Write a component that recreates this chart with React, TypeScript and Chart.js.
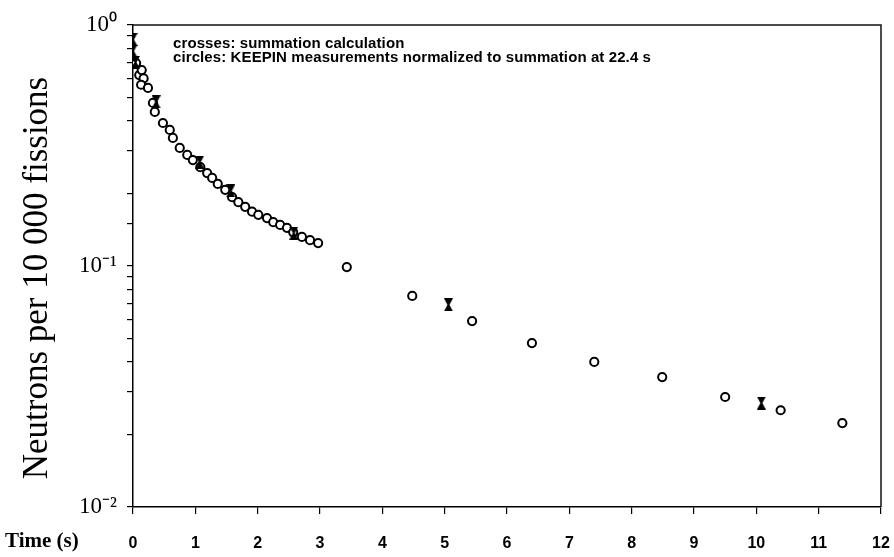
import React, { useEffect, useRef } from 'react';
import { Chart, registerables } from 'chart.js';

Chart.register(...registerables);

// KEEPIN measurements (circles), time in s
const circleTimes = [0.05, 0.10, 0.14, 0.17, 0.13, 0.24, 0.32, 0.35, 0.48, 0.59, 0.64, 0.75, 0.87, 0.96, 1.08, 1.19, 1.27, 1.36, 1.48, 1.59, 1.69, 1.80, 1.91, 2.01, 2.15, 2.25, 2.36, 2.47, 2.57, 2.71, 2.84, 2.97, 3.43, 4.48, 5.44, 6.40, 7.40, 8.49, 9.50, 10.39, 11.38];
const circleValues = [0.695, 0.62, 0.65, 0.60, 0.565, 0.548, 0.475, 0.436, 0.392, 0.367, 0.340, 0.309, 0.289, 0.275, 0.257, 0.243, 0.232, 0.219, 0.207, 0.193, 0.184, 0.176, 0.168, 0.163, 0.158, 0.152, 0.148, 0.144, 0.138, 0.132, 0.128, 0.1245, 0.099, 0.0751, 0.0591, 0.0479, 0.040, 0.0346, 0.0286, 0.0252, 0.0223];

// Summation calculation (crosses)
const crossTimes = [0.0, 0.0, 0.04, 0.37, 1.07, 1.57, 2.58, 5.06, 10.08];
const crossValues = [0.87, 0.78, 0.70, 0.48, 0.27, 0.205, 0.137, 0.069, 0.027];

const xMin = 0;
const xMax = 12;
const yMin = 0.01;
const yMax = 1;
const yMajorValues = [1, 0.1, 0.01];
const yMajorLabels = ['10⁰', '10⁻¹', '10⁻²'];

const legendLines = [
  'crosses: summation calculation',
  'circles: KEEPIN measurements normalized to summation at 22.4 s',
];
const xTitle = 'Time (s)';
const yTitle = 'Neutrons per 10 000 fissions';

function makeHourglass(): HTMLCanvasElement {
  const c = document.createElement('canvas');
  c.width = 9;
  c.height = 13;
  const g = c.getContext('2d')!;
  g.fillStyle = '#000';
  g.beginPath();
  g.moveTo(0, 0);
  g.lineTo(9, 0);
  g.lineTo(5.5, 6.5);
  g.lineTo(9, 13);
  g.lineTo(0, 13);
  g.lineTo(3.5, 6.5);
  g.closePath();
  g.fill();
  return c;
}

const annotatePlugin = {
  id: 'annotate',
  afterDraw(chart: any) {
    const { ctx, chartArea: a } = chart;
    ctx.save();
    // frame top and right
    ctx.strokeStyle = '#111';
    ctx.lineWidth = 1.5;
    ctx.beginPath();
    ctx.moveTo(a.left, a.top);
    ctx.lineTo(a.right, a.top);
    ctx.lineTo(a.right, a.bottom);
    ctx.stroke();

    ctx.fillStyle = '#000';
    ctx.textBaseline = 'middle';
    ctx.textAlign = 'left';
    ctx.font = 'bold 15px "Liberation Sans"';
    (ctx as any).letterSpacing = '0.1px';
    ctx.fillText(legendLines[0], a.left + 40, a.top + 19);
    ctx.fillText(legendLines[1], a.left + 40, a.top + 33);
    (ctx as any).letterSpacing = '0px';

    ctx.font = 'bold 21px "Liberation Serif"';
    ctx.fillText(xTitle, 5, a.bottom + 35);

    ctx.translate(38, (a.top + a.bottom) / 2 + 12);
    ctx.rotate(-Math.PI / 2);
    ctx.textAlign = 'center';
    ctx.font = '35px "Liberation Serif"';
    ctx.fillText(yTitle, 0, 0);
    ctx.restore();
  },
};

export default function App() {
  const ref = useRef<HTMLCanvasElement | null>(null);

  useEffect(() => {
    if (!ref.current) return;
    const hourglass = makeHourglass();
    const chart = new Chart(ref.current, {
      type: 'scatter',
      data: {
        datasets: [
          {
            label: 'summation calculation',
            data: crossTimes.map((t, i) => ({ x: t, y: crossValues[i] })),
            pointStyle: hourglass as any,
            pointRadius: 5,
            showLine: false,
          },
          {
            label: 'KEEPIN measurements',
            data: circleTimes.map((t, i) => ({ x: t, y: circleValues[i] })),
            pointStyle: 'circle',
            pointRadius: 4.1,
            borderWidth: 2,
            borderColor: '#000',
            backgroundColor: '#fff',
            showLine: false,
          },
        ],
      },
      options: {
        animation: false,
        responsive: true,
        maintainAspectRatio: false,
        events: [],
        layout: { padding: { top: 25, right: 13, left: 0, bottom: 0 } },
        plugins: { legend: { display: false }, tooltip: { enabled: false } },
        scales: {
          x: {
            type: 'linear',
            min: xMin,
            max: xMax,
            ticks: {
              stepSize: 1,
              autoSkip: false,
              maxTicksLimit: 20,
              maxRotation: 0,
              color: '#000',
              padding: 20,
              font: { family: '"Liberation Sans"', weight: 'bold', size: 16 },
            },
            grid: { drawOnChartArea: false, tickLength: 7, color: '#000', lineWidth: 1.2 },
            border: { color: '#000', width: 1.5 },
            afterFit(s: any) {
              s.height = 50;
              s.paddingLeft = 0;
              s.paddingRight = 0;
            },
          },
          y: {
            type: 'logarithmic',
            min: yMin,
            max: yMax,
            ticks: {
              autoSkip: false,
              color: '#000',
              padding: 10,
              font: { family: '"Liberation Serif"', size: 23 },
              callback: (v: any) => {
                const idx = yMajorValues.findIndex((m) => Math.abs(Math.log10(Number(v)) - Math.log10(m)) < 1e-6);
                return idx >= 0 ? yMajorLabels[idx] : '';
              },
            },
            grid: { drawOnChartArea: false, tickLength: 6, color: '#000', lineWidth: 1.2 },
            border: { color: '#000', width: 1.5 },
            afterFit(s: any) {
              s.width = 133;
              s.paddingTop = 0;
              s.paddingBottom = 0;
            },
          },
        },
      },
      plugins: [annotatePlugin],
    });
    return () => chart.destroy();
  }, []);

  return (
    <div style={{ position: 'fixed', left: 0, top: 0, width: 894, height: 557, background: '#fff' }}>
      <canvas ref={ref} />
    </div>
  );
}
